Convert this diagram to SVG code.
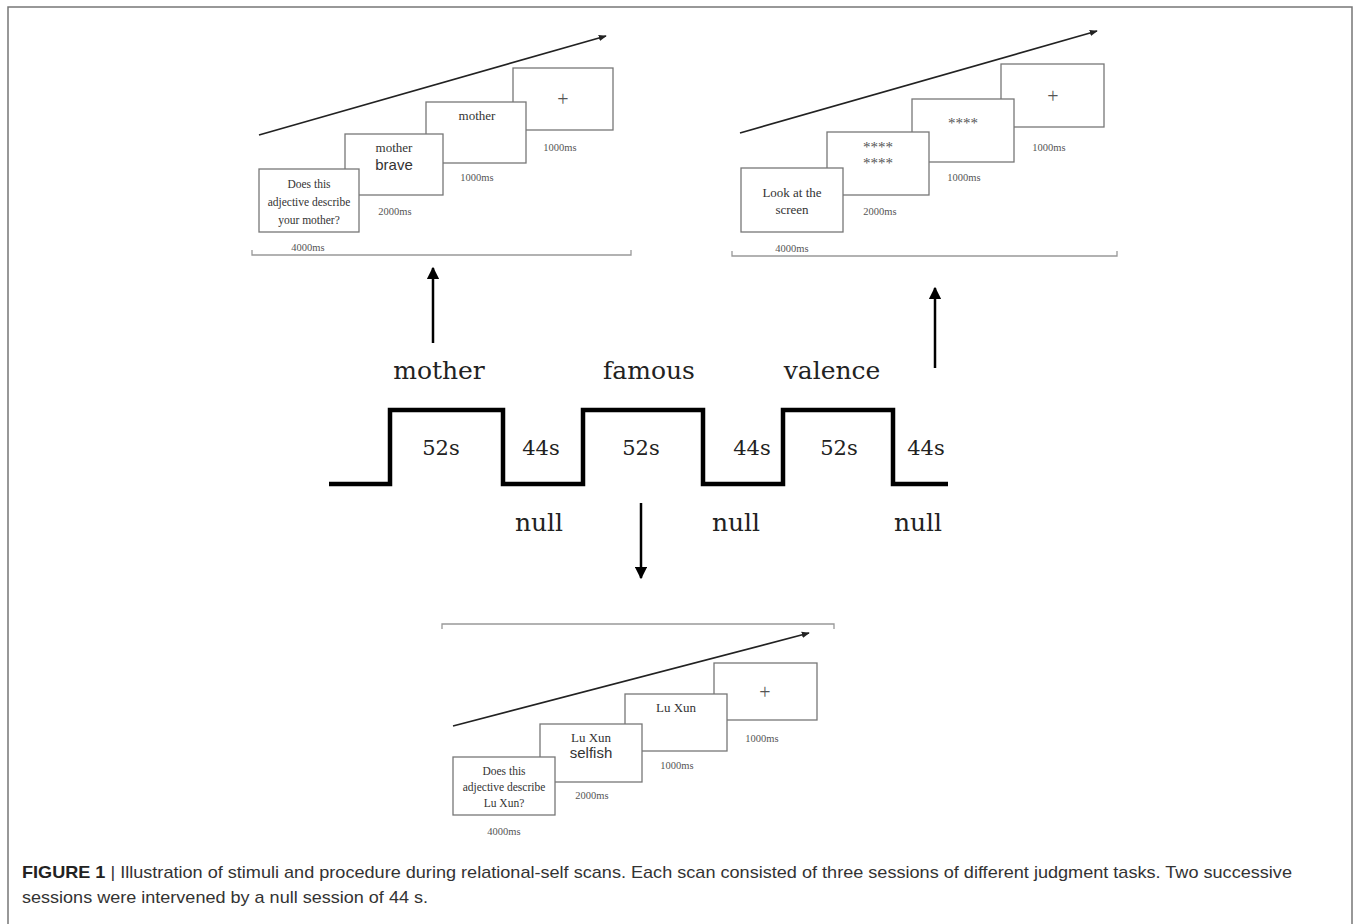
<svg xmlns="http://www.w3.org/2000/svg" width="1360" height="924" viewBox="0 0 1360 924">
<defs>
<marker id="ah" viewBox="0 0 10 10" refX="9" refY="5" markerWidth="8" markerHeight="8" markerUnits="userSpaceOnUse" orient="auto">
<path d="M0,1 L10,5 L0,9 z" fill="#222"/>
</marker>
<marker id="bh" viewBox="0 0 10 10" refX="9" refY="5" markerWidth="5" markerHeight="5" orient="auto">
<path d="M0,0 L10,5 L0,10 z" fill="#000"/>
</marker>
<style>
.frame{fill:none;stroke:#777;stroke-width:1.5}
.scr{fill:#fff;stroke:#777;stroke-width:1.3}
.tl{fill:none;stroke:#222;stroke-width:1.7}
.br{fill:none;stroke:#999;stroke-width:1.3}
.st{font-family:"Liberation Serif",serif;font-size:11.5px;fill:#333;text-anchor:middle}
.wd{font-family:"Liberation Serif",serif;font-size:13px;fill:#333;text-anchor:middle}
.ast{font-family:"Liberation Serif",serif;font-size:15px;fill:#555;text-anchor:middle}
.big{font-family:"Liberation Sans",sans-serif;font-size:15px;fill:#333;text-anchor:middle}
.ms{font-family:"Liberation Serif",serif;font-size:10.5px;fill:#555;text-anchor:middle}
.plus{font-family:"Liberation Serif",serif;font-size:20px;fill:#555;text-anchor:middle}
.lab{font-family:"DejaVu Serif",serif;font-size:25px;fill:#222;text-anchor:middle}
.num{font-family:"DejaVu Serif",serif;font-size:21px;fill:#222;text-anchor:middle}
.wave{fill:none;stroke:#000;stroke-width:4.5;stroke-linejoin:miter}
.ar{fill:none;stroke:#000;stroke-width:2.5}
.cap{font-family:"Liberation Sans",sans-serif;font-size:17px;fill:#333}
</style>
</defs>
<rect width="1360" height="924" fill="#fff"/>
<path class="frame" d="M8,930 L8,7 L1352,7 L1352,930"/>

<g id="panel-mother">
<line class="tl" x1="259" y1="135" x2="606" y2="36" marker-end="url(#ah)"/>
<rect class="scr" x="513" y="68" width="100" height="62"/>
<rect class="scr" x="426" y="102" width="100" height="61"/>
<rect class="scr" x="345" y="134" width="98" height="61"/>
<rect class="scr" x="259" y="169" width="100" height="63"/>
<text class="st" x="309" y="188">Does this</text>
<text class="st" x="309" y="206">adjective describe</text>
<text class="st" x="309" y="224">your mother?</text>
<text class="wd" x="394" y="152">mother</text>
<text class="big" x="394" y="170">brave</text>
<text class="wd" x="477" y="120">mother</text>
<text class="plus" x="563" y="106">+</text>
<text class="ms" x="560" y="151">1000ms</text>
<text class="ms" x="477" y="181">1000ms</text>
<text class="ms" x="395" y="215">2000ms</text>
<text class="ms" x="308" y="251">4000ms</text>
<path class="br" d="M252,250 L252,255 L631,255 L631,250"/>
</g>

<g id="panel-valence">
<line class="tl" x1="740" y1="133" x2="1097" y2="31" marker-end="url(#ah)"/>
<rect class="scr" x="1001" y="64" width="103" height="63"/>
<rect class="scr" x="912" y="99" width="102" height="63"/>
<rect class="scr" x="827" y="132" width="102" height="63"/>
<rect class="scr" x="741" y="168" width="102" height="64"/>
<text class="wd" x="792" y="197">Look at the</text>
<text class="wd" x="792" y="214">screen</text>
<text class="ast" x="878" y="152">****</text>
<text class="ast" x="878" y="168">****</text>
<text class="ast" x="963" y="128">****</text>
<text class="plus" x="1053" y="103">+</text>
<text class="ms" x="1049" y="151">1000ms</text>
<text class="ms" x="964" y="181">1000ms</text>
<text class="ms" x="880" y="215">2000ms</text>
<text class="ms" x="792" y="252">4000ms</text>
<path class="br" d="M732,251 L732,256 L1117,256 L1117,251"/>
</g>

<g id="panel-famous">
<path class="br" d="M442,629 L442,624 L834,624 L834,629"/>
<line class="tl" x1="453" y1="726" x2="809" y2="633" marker-end="url(#ah)"/>
<rect class="scr" x="714" y="663" width="103" height="57"/>
<rect class="scr" x="625" y="694" width="102" height="57"/>
<rect class="scr" x="540" y="724" width="102" height="58"/>
<rect class="scr" x="453" y="757" width="102" height="58"/>
<text class="st" x="504" y="775">Does this</text>
<text class="st" x="504" y="791">adjective describe</text>
<text class="st" x="504" y="807">Lu Xun?</text>
<text class="wd" x="591" y="742">Lu Xun</text>
<text class="big" x="591" y="758">selfish</text>
<text class="wd" x="676" y="712">Lu Xun</text>
<text class="plus" x="765" y="699">+</text>
<text class="ms" x="762" y="742">1000ms</text>
<text class="ms" x="677" y="769">1000ms</text>
<text class="ms" x="592" y="799">2000ms</text>
<text class="ms" x="504" y="835">4000ms</text>
</g>

<g id="block-design">
<path class="wave" d="M329,484 L390,484 L390,410 L503,410 L503,484 L583,484 L583,410 L703,410 L703,484 L783,484 L783,410 L893,410 L893,484 L948,484"/>
<text class="lab" x="439" y="379">mother</text>
<text class="lab" x="649" y="379">famous</text>
<text class="lab" x="832" y="379">valence</text>
<text class="num" x="441" y="455">52s</text>
<text class="num" x="541" y="455">44s</text>
<text class="num" x="641" y="455">52s</text>
<text class="num" x="752" y="455">44s</text>
<text class="num" x="839" y="455">52s</text>
<text class="num" x="926" y="455">44s</text>
<text class="lab" x="539" y="531">null</text>
<text class="lab" x="736" y="531">null</text>
<text class="lab" x="918" y="531">null</text>
</g>

<g id="connectors">
<line class="ar" x1="433" y1="343" x2="433" y2="268" marker-end="url(#bh)"/>
<line class="ar" x1="935" y1="368" x2="935" y2="288" marker-end="url(#bh)"/>
<line class="ar" x1="641" y1="503" x2="641" y2="578" marker-end="url(#bh)"/>
</g>

<g id="caption">
<text class="cap" x="22" y="878" textLength="1270" lengthAdjust="spacingAndGlyphs"><tspan font-weight="bold" fill="#222">FIGURE 1</tspan> | Illustration of stimuli and procedure during relational-self scans. Each scan consisted of three sessions of different judgment tasks. Two successive</text>
<text class="cap" x="22" y="903" textLength="406" lengthAdjust="spacingAndGlyphs">sessions were intervened by a null session of 44 s.</text>
</g>
</svg>
